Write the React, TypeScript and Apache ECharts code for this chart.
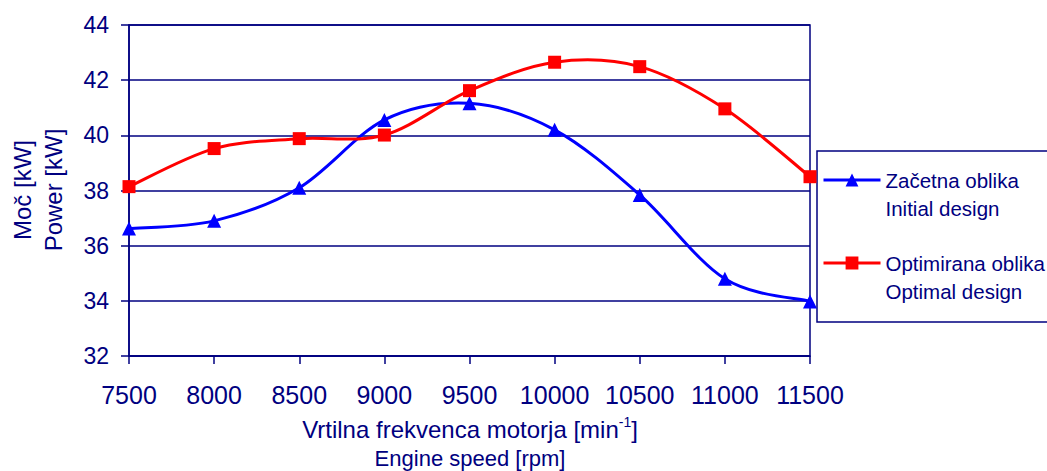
import React, { useEffect, useRef } from "react";
import * as echarts from "echarts";

const speeds = [7500, 8000, 8500, 9000, 9500, 10000, 10500, 11000, 11500];
const initialDesign = [36.62, 36.9, 38.1, 40.56, 41.16, 40.2, 37.84, 34.8, 33.98];
const optimalDesign = [38.14, 39.52, 39.88, 40.01, 41.62, 42.65, 42.49, 40.96, 38.5];
const seriesNames = ["Začetna oblika", "Optimirana oblika"];
const legendLabels: Record<string, string> = {
  "Začetna oblika": "Začetna oblika\nInitial design",
  "Optimirana oblika": "Optimirana oblika\nOptimal design",
};

const NAVY = "#000080";
const BLUE = "#0000ff";
const RED = "#ff0000";
const FONT = "'Liberation Sans', Arial, sans-serif";

// Smoothed curve (Catmull-Rom style, as in spreadsheet "smoothed line") drawn through the data
function makeCurveRenderer(values: number[], color: string) {
  return (params: any, api: any) => {
    const i = params.dataIndex;
    const n = speeds.length;
    if (i >= n - 1) return null;
    const pts = speeds.map((s, k) => api.coord([s, values[k]]));
    const p0 = pts[Math.max(i - 1, 0)];
    const p1 = pts[i];
    const p2 = pts[i + 1];
    const p3 = pts[Math.min(i + 2, n - 1)];
    const t = 1 / 6;
    return {
      type: "bezierCurve",
      shape: {
        x1: p1[0],
        y1: p1[1],
        cpx1: p1[0] + (p2[0] - p0[0]) * t,
        cpy1: p1[1] + (p2[1] - p0[1]) * t,
        cpx2: p2[0] - (p3[0] - p1[0]) * t,
        cpy2: p2[1] - (p3[1] - p1[1]) * t,
        x2: p2[0],
        y2: p2[1],
      },
      style: { stroke: color, lineWidth: 3, fill: "none", lineCap: "round" },
    };
  };
}

export default function App() {
  const ref = useRef<HTMLDivElement>(null);
  useEffect(() => {
    if (!ref.current) return;
    const chart = echarts.init(ref.current, undefined, { renderer: "svg" });
    chart.setOption({
      animation: false,
      backgroundColor: "#ffffff",
      textStyle: { fontFamily: FONT },
      grid: {
        left: 129,
        right: 237,
        top: 25,
        bottom: 115,
        show: true,
        borderColor: NAVY,
        borderWidth: 1.5,
        backgroundColor: "transparent",
      },
      xAxis: {
        type: "value",
        min: 7500,
        max: 11500,
        interval: 500,
        axisLine: { show: true, lineStyle: { color: NAVY, width: 1.5 } },
        axisTick: { show: true, length: 8, lineStyle: { color: NAVY, width: 1.5 } },
        axisLabel: {
          color: NAVY,
          fontSize: 25,
          fontFamily: FONT,
          margin: 26,
          formatter: (v: number) => String(v),
        },
        splitLine: { show: false },
      },
      yAxis: {
        type: "value",
        min: 32,
        max: 44,
        interval: 2,
        axisLine: { show: true, lineStyle: { color: NAVY, width: 1.5 } },
        axisTick: { show: true, length: 8, lineStyle: { color: NAVY, width: 1.5 } },
        axisLabel: { color: NAVY, fontSize: 23, fontFamily: FONT, margin: 20 },
        splitLine: { show: true, lineStyle: { color: NAVY, width: 1.5 } },
      },
      legend: {
        left: 822,
        top: 138,
        orient: "vertical",
        padding: 0,
        itemGap: -1,
        itemWidth: 57,
        itemHeight: 16,
        data: [
          { name: seriesNames[0], lineStyle: { color: BLUE, width: 3, opacity: 1 } },
          { name: seriesNames[1], lineStyle: { color: RED, width: 3, opacity: 1 } },
        ],
        formatter: (name: string) => "\u00A0\n" + legendLabels[name],
        textStyle: { color: NAVY, fontSize: 20.5, lineHeight: 28, fontFamily: FONT },
        z: 10,
      },
      graphic: [
        {
          type: "rect",
          z: 1,
          shape: { x: 817, y: 151, width: 240, height: 171 },
          style: { fill: "#ffffff", stroke: NAVY, lineWidth: 1.5 },
        },
        {
          type: "text",
          x: 22,
          y: 190,
          rotation: Math.PI / 2,
          style: {
            text: "Moč [kW]",
            fill: NAVY,
            font: `24px ${FONT}`,
            textAlign: "center",
            textVerticalAlign: "middle",
          },
        },
        {
          type: "text",
          x: 53,
          y: 190,
          rotation: Math.PI / 2,
          style: {
            text: "Power [kW]",
            fill: NAVY,
            font: `24px ${FONT}`,
            textAlign: "center",
            textVerticalAlign: "middle",
          },
        },
        {
          type: "text",
          x: 470,
          y: 428,
          style: {
            text: "{a|Vrtilna frekvenca motorja [min}{s|-1}{a|]}",
            fill: NAVY,
            textAlign: "center",
            textVerticalAlign: "middle",
            rich: {
              a: { fontSize: 24, fontFamily: FONT, color: NAVY, lineHeight: 26, verticalAlign: "bottom" },
              s: { fontSize: 14, fontFamily: FONT, color: NAVY, lineHeight: 26, verticalAlign: "top", padding: [0, 0, 10, 0] },
            },
          },
        },
        {
          type: "text",
          x: 470,
          y: 458,
          style: {
            text: "Engine speed [rpm]",
            fill: NAVY,
            font: `22px ${FONT}`,
            textAlign: "center",
            textVerticalAlign: "middle",
          },
        },
      ],
      series: [
        {
          name: "curve-initial",
          type: "custom",
          data: speeds.map((s, i) => [s, initialDesign[i]]),
          renderItem: makeCurveRenderer(initialDesign, BLUE),
          z: 2,
          silent: true,
        },
        {
          name: "curve-optimal",
          type: "custom",
          data: speeds.map((s, i) => [s, optimalDesign[i]]),
          renderItem: makeCurveRenderer(optimalDesign, RED),
          z: 2,
          silent: true,
        },
        {
          name: seriesNames[0],
          type: "line",
          data: speeds.map((s, i) => [s, initialDesign[i]]),
          symbol: "triangle",
          symbolSize: 14,
          lineStyle: { color: BLUE, width: 3, opacity: 0 },
          itemStyle: { color: BLUE },
          z: 3,
        },
        {
          name: seriesNames[1],
          type: "line",
          data: speeds.map((s, i) => [s, optimalDesign[i]]),
          symbol: "rect",
          symbolSize: 13,
          lineStyle: { color: RED, width: 3, opacity: 0 },
          itemStyle: { color: RED },
          z: 3,
        },
      ],
    });
    return () => chart.dispose();
  }, []);
  return <div ref={ref} style={{ width: 1047, height: 471, position: "absolute", left: 0, top: 0 }} />;
}
